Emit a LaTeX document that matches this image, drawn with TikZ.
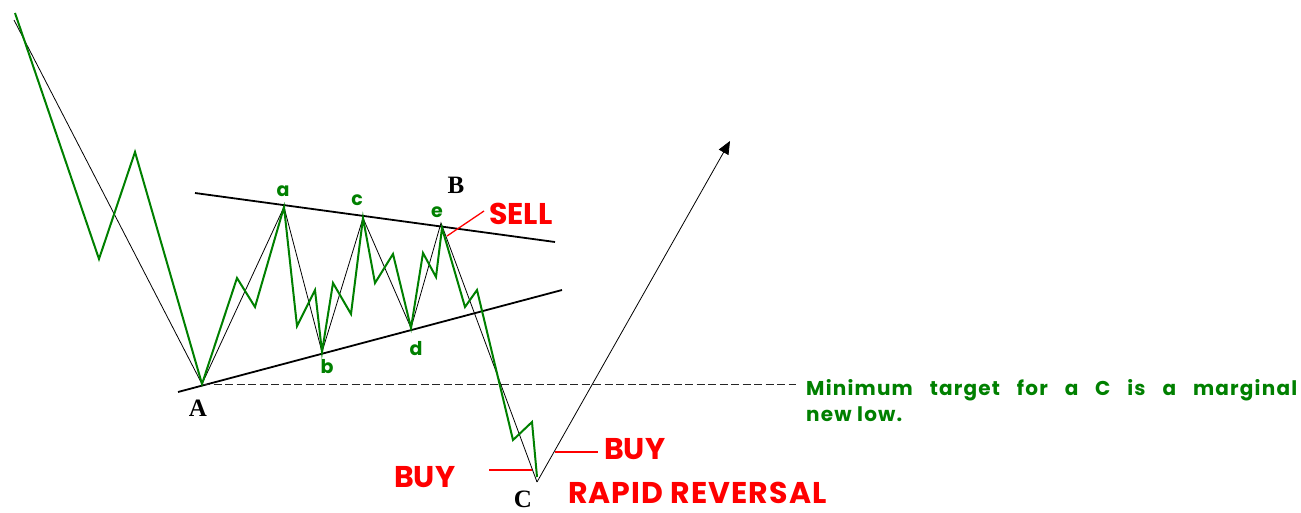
\documentclass[tikz,border=0pt]{standalone}
\usepackage{fontspec}
\newfontfamily\wavefont{Poppins}
\newfontfamily\widefont[LetterSpace=6]{Poppins}
\newfontfamily\rapidfont[LetterSpace=3.5]{Poppins}
\newfontfamily\pointfont{Liberation Serif}
\usetikzlibrary{arrows.meta}
\begin{document}
\begin{tikzpicture}[x=1pt, y=-1pt, >={Triangle[length=13pt,width=11pt]},
  wave/.style={line width=2pt, draw=wavegreen, line join=miter},
  guide/.style={line width=0.8pt, draw=black},
  border/.style={line width=1.8pt, draw=black},
  signal/.style={line width=1.3pt, draw=red},
  redtext/.style={anchor=west, inner sep=0pt, text=red,
    font=\wavefont\bfseries\fontsize{30}{30}\selectfont},
  wavelabel/.style={inner sep=0pt, text=wavegreen,
    font=\wavefont\bfseries\fontsize{19}{19}\selectfont},
  pointlabel/.style={inner sep=0pt,
    font=\pointfont\bfseries\fontsize{25}{25}\selectfont}]
  \colorlet{wavegreen}{green!50!black}
  \useasboundingbox (0,0) rectangle (1301,512);
  % turning points of the pattern
  \coordinate (A) at (202,384);
  \coordinate (a) at (284,207);
  \coordinate (b) at (322,352);
  \coordinate (c) at (363,218);
  \coordinate (d) at (411,328);
  \coordinate (e) at (442,228);
  \coordinate (B) at (441,223); % top of the thin guide
  \coordinate (C) at (537,482);
  \coordinate (tip) at (730,141);
  % triangle borders and minimum target
  \draw[border] (178,392) -- (562,290);
  \draw[border] (195,193) -- (555,242);
  \draw[line width=0.9pt, draw=black!85, dash pattern=on 8pt off 3.5pt]
    (A) -- (796,384);
  % thin guide
  \draw[guide] (14,20) -- (A) -- (a) -- (b) -- (c) -- (d) -- (B) -- (C);
  \draw[guide,->] (C) -- (tip);
  % price wave
  \draw[wave] (15,13) -- (99,259) -- (135,152) -- (A) -- (237,278) --
  (255,307) -- (a) -- (297,326) -- (315,290) -- (b) -- (333,283) --
  (351,314) -- (c) -- (375,283) -- (393,254) -- (d) -- (423,253) --
  (436,277) -- (e) -- (465,307) -- (477,290) -- (513,440) -- (532,422) --
  (537,477);
  % signals
  \draw[signal] (447,236) -- (484,211);
  \draw[signal] (489,470) -- (532,470);
  \draw[signal] (555,452) -- (598,452);
  \node[redtext] (sell) at (489,214) {SELL};
  \node[redtext] (buyl) at (394,477) {BUY};
  \node[redtext] (buyr) at (604,449) {BUY};
  \node[redtext, font=\rapidfont\bfseries\fontsize{30}{30}\selectfont]
    (rapid) at (568,493) {RAPID REVERSAL};
  % labels
  \node[wavelabel] at (283,191) {a};
  \node[wavelabel] at (327,367) {b};
  \node[wavelabel] at (357,200) {c};
  \node[wavelabel] at (416,349) {d};
  \node[wavelabel] at (437,212) {e};
  \node[pointlabel] at (198,408) {A};
  \node[pointlabel] at (456,185) {B};
  \node[pointlabel] at (523,499) {C};
  \node[anchor=north west, inner sep=0pt, text width=491pt, align=justify,
    text=wavegreen, font=\widefont\bfseries\fontsize{20}{26}\selectfont]
    (target) at (806,379)
    {Minimum target for a C is a marginal\linebreak new low.};
\end{tikzpicture}
\end{document}
